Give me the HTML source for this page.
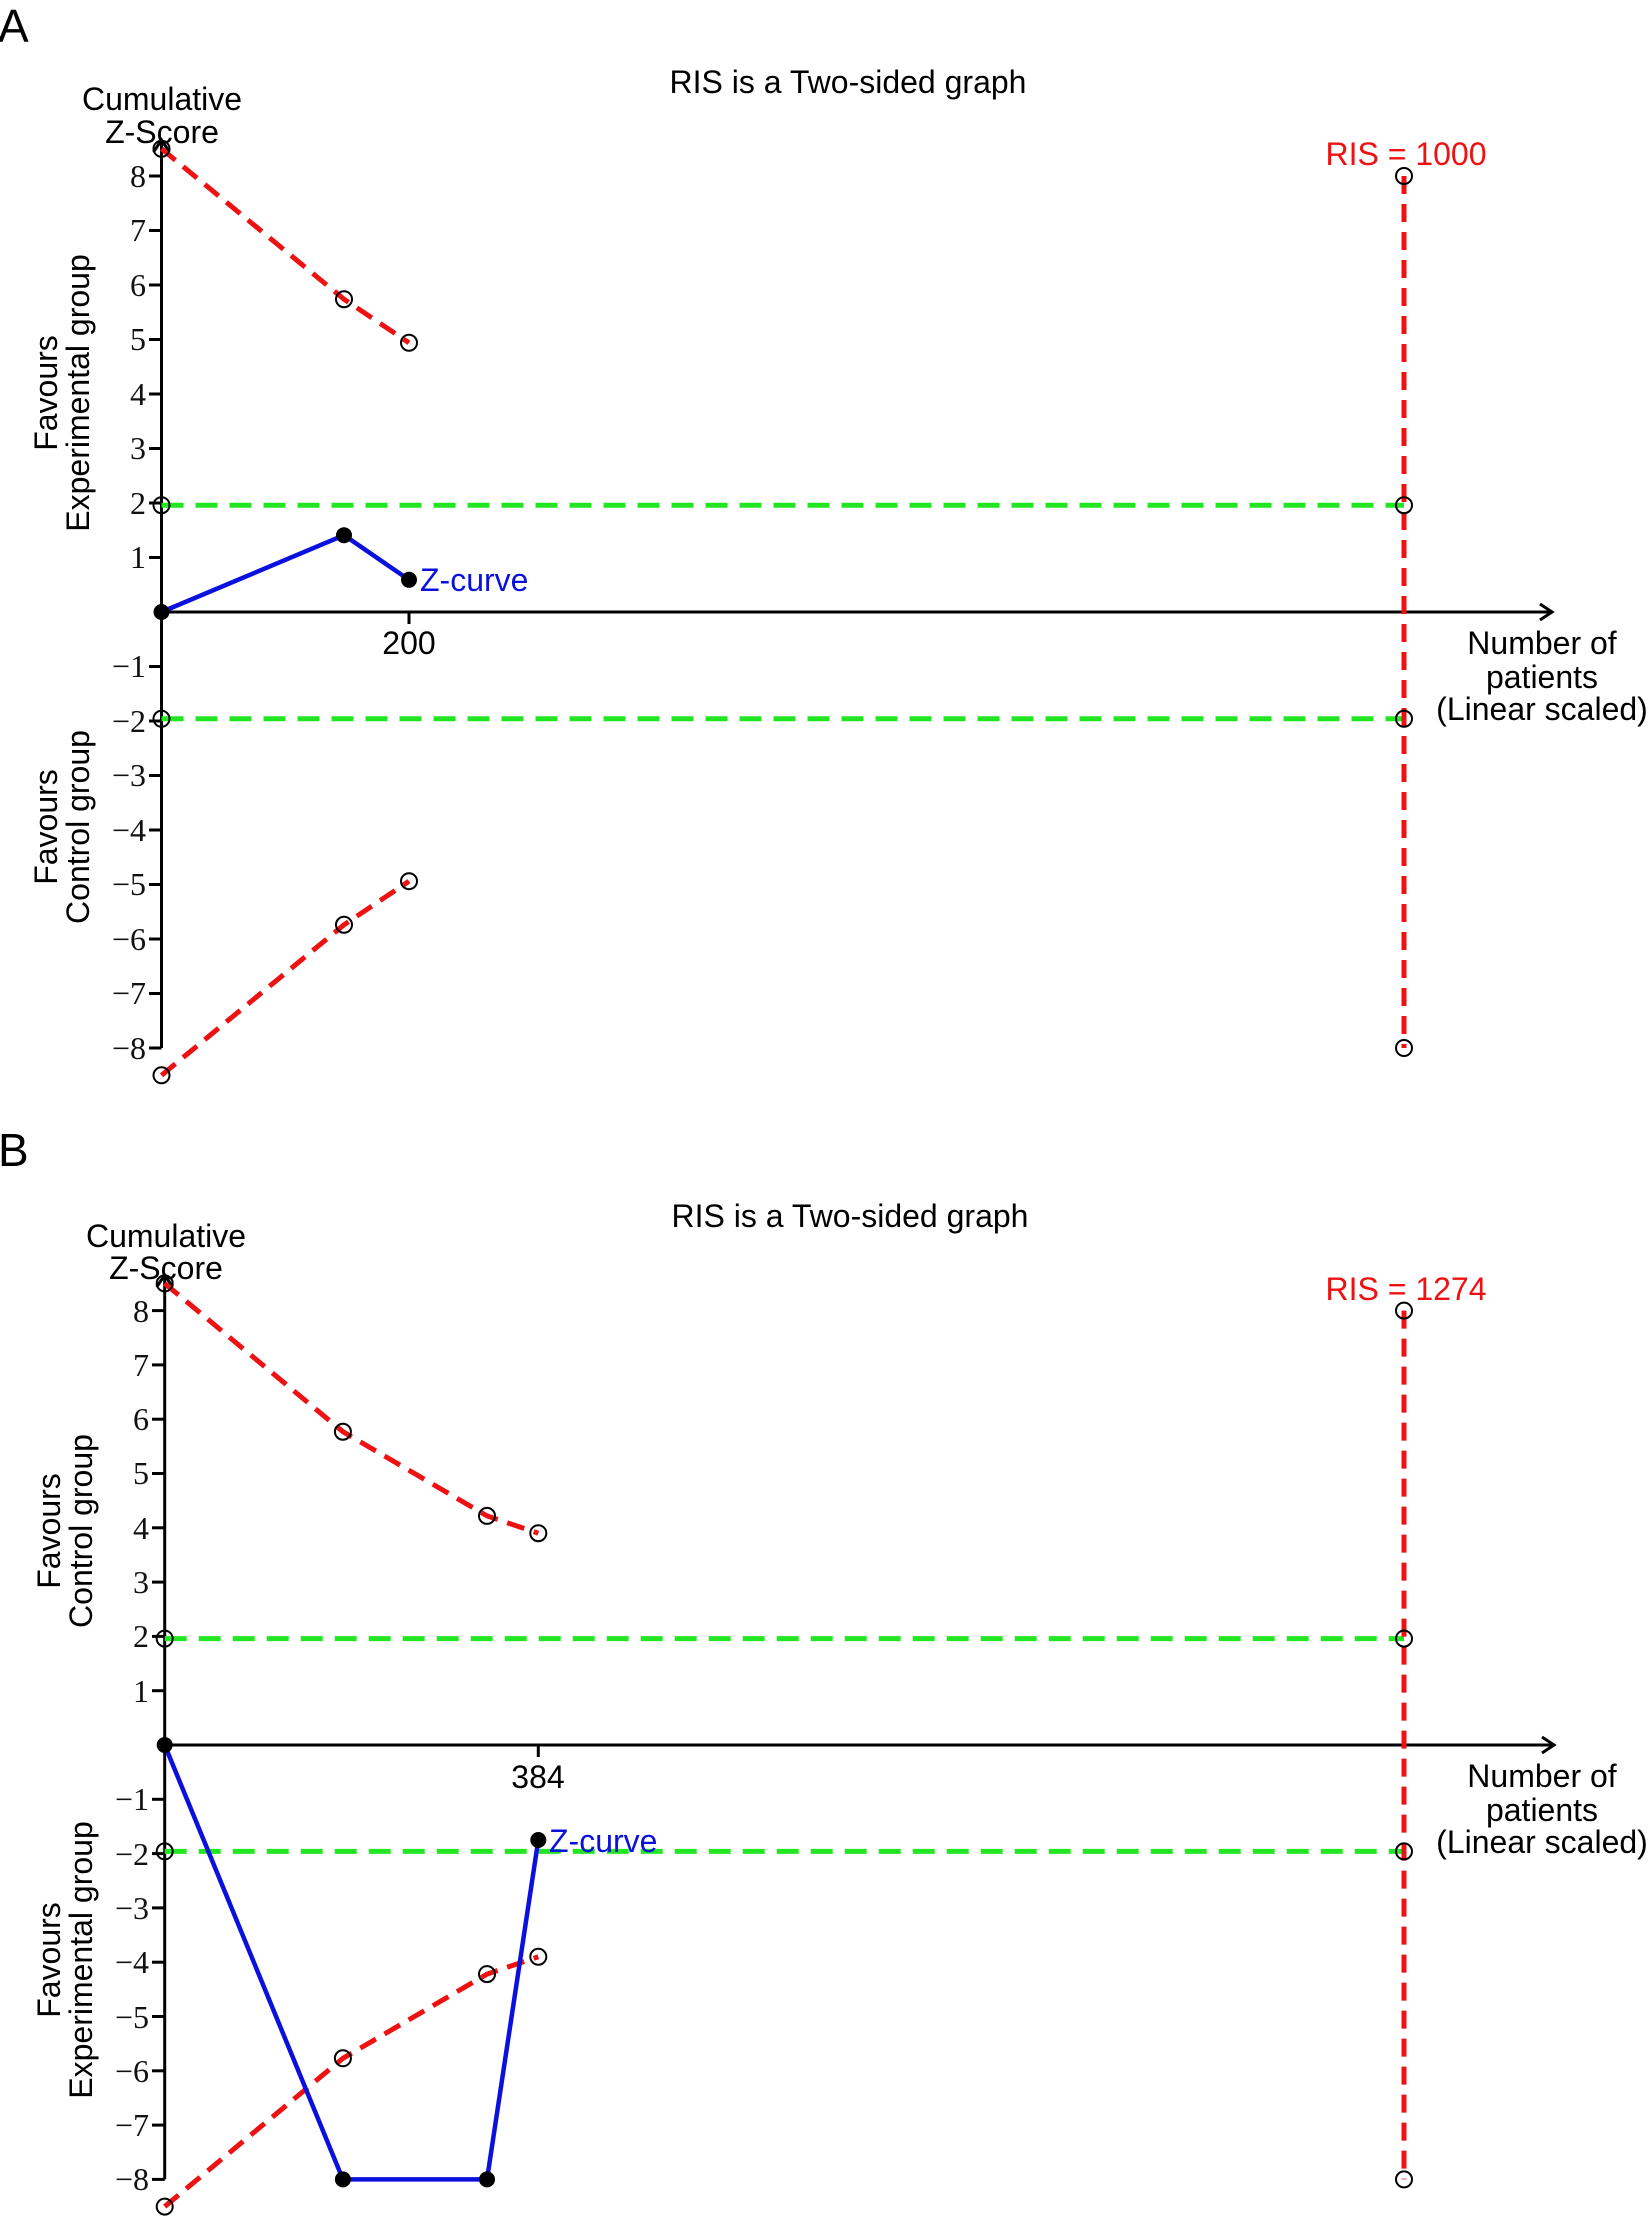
<!DOCTYPE html>
<html><head><meta charset="utf-8"><style>
html,body{margin:0;padding:0;background:#fff;}
svg{display:block;}
.s{font-family:"Liberation Sans",sans-serif;}
.t{font-family:"Liberation Serif",serif;font-size:32px;fill:#111;}
</style></head><body>
<svg width="1650" height="2220" viewBox="0 0 1650 2220" xmlns="http://www.w3.org/2000/svg">
<defs>
<marker id="ar" markerWidth="20" markerHeight="20" refX="14" refY="10" orient="auto" markerUnits="userSpaceOnUse">
<path d="M2,2 L14,10 L2,18" fill="none" stroke="#000" stroke-width="3"/>
</marker>
</defs>

<!-- ================= PANEL A ================= -->
<text x="-2" y="42" class="s" font-size="46">A</text>
<text x="848" y="93" class="s" font-size="32" text-anchor="middle">RIS is a Two-sided graph</text>
<text x="162" y="110" class="s" font-size="32" text-anchor="middle">Cumulative</text>
<text x="162" y="143" class="s" font-size="32" text-anchor="middle">Z-Score</text>
<text transform="translate(57,393) rotate(-90)" class="s" font-size="32" text-anchor="middle">Favours</text>
<text transform="translate(89,393) rotate(-90)" class="s" font-size="32" text-anchor="middle">Experimental group</text>
<text transform="translate(57,827) rotate(-90)" class="s" font-size="32" text-anchor="middle">Favours</text>
<text transform="translate(89,827) rotate(-90)" class="s" font-size="32" text-anchor="middle">Control group</text>

<line x1="161.5" y1="1048" x2="161.5" y2="140" stroke="#000" stroke-width="3" marker-end="url(#ar)"/>
<line x1="161.5" y1="612" x2="1552" y2="612" stroke="#000" stroke-width="3" marker-end="url(#ar)"/>
<g stroke="#000" stroke-width="3">
<line x1="149" y1="557.5" x2="161.5" y2="557.5"/><line x1="149" y1="503" x2="161.5" y2="503"/>
<line x1="149" y1="448.5" x2="161.5" y2="448.5"/><line x1="149" y1="394" x2="161.5" y2="394"/>
<line x1="149" y1="339.5" x2="161.5" y2="339.5"/><line x1="149" y1="285" x2="161.5" y2="285"/>
<line x1="149" y1="230.5" x2="161.5" y2="230.5"/><line x1="149" y1="176" x2="161.5" y2="176"/>
<line x1="149" y1="666.5" x2="161.5" y2="666.5"/><line x1="149" y1="721" x2="161.5" y2="721"/>
<line x1="149" y1="775.5" x2="161.5" y2="775.5"/><line x1="149" y1="830" x2="161.5" y2="830"/>
<line x1="149" y1="884.5" x2="161.5" y2="884.5"/><line x1="149" y1="939" x2="161.5" y2="939"/>
<line x1="149" y1="993.5" x2="161.5" y2="993.5"/><line x1="149" y1="1048" x2="161.5" y2="1048"/>
<line x1="409" y1="612" x2="409" y2="624"/>
</g>
<g class="t" text-anchor="end">
<text x="146" y="568">1</text><text x="146" y="514">2</text><text x="146" y="459">3</text><text x="146" y="405">4</text>
<text x="146" y="350">5</text><text x="146" y="296">6</text><text x="146" y="241">7</text><text x="146" y="187">8</text>
<text x="146" y="677">−1</text><text x="146" y="732">−2</text><text x="146" y="786">−3</text><text x="146" y="841">−4</text>
<text x="146" y="895">−5</text><text x="146" y="950">−6</text><text x="146" y="1004">−7</text><text x="146" y="1059">−8</text>
</g>
<text x="409" y="654" class="s" font-size="32" text-anchor="middle">200</text>
<text x="1542" y="654" class="s" font-size="32" text-anchor="middle">Number of</text>
<text x="1542" y="688" class="s" font-size="32" text-anchor="middle">patients</text>
<text x="1542" y="720" class="s" font-size="32" text-anchor="middle">(Linear scaled)</text>

<g stroke="#22e622" stroke-width="5" stroke-dasharray="22,12" fill="none">
<line x1="161.5" y1="505.2" x2="1404" y2="505.2"/>
<line x1="161.5" y1="718.8" x2="1404" y2="718.8"/>
</g>
<g stroke="#ee1111" stroke-width="5" stroke-dasharray="18,10" fill="none">
<polyline points="161.5,148.75 344,299.2 409,342.8"/>
<polyline points="161.5,1075.3 344,924.8 409,881.2"/>
<line x1="1404" y1="176" x2="1404" y2="1048"/>
</g>
<text x="1406" y="165" class="s" font-size="32" fill="#ee1111" text-anchor="middle">RIS = 1000</text>
<polyline points="161.5,612 344,535.2 409,579.8" stroke="#0a10dd" stroke-width="4.5" fill="none"/>
<g fill="#000"><circle cx="161.5" cy="612" r="8"/><circle cx="344" cy="535.2" r="8"/><circle cx="409" cy="579.8" r="8"/></g>
<text x="420" y="591" class="s" font-size="32" fill="#0a10dd">Z-curve</text>
<g fill="none" stroke="#000" stroke-width="2">
<circle cx="161.5" cy="148.75" r="8"/><circle cx="344" cy="299.2" r="8"/><circle cx="409" cy="342.8" r="8"/>
<circle cx="161.5" cy="1075.3" r="8"/><circle cx="344" cy="924.8" r="8"/><circle cx="409" cy="881.2" r="8"/>
<circle cx="161.5" cy="505.2" r="8"/><circle cx="161.5" cy="718.8" r="8"/>
<circle cx="1404" cy="176" r="8"/><circle cx="1404" cy="505.2" r="8"/><circle cx="1404" cy="718.8" r="8"/><circle cx="1404" cy="1048" r="8"/>
</g>

<!-- ================= PANEL B ================= -->
<text x="-2" y="1166" class="s" font-size="46">B</text>
<text x="850" y="1227" class="s" font-size="32" text-anchor="middle">RIS is a Two-sided graph</text>
<text x="166" y="1247" class="s" font-size="32" text-anchor="middle">Cumulative</text>
<text x="166" y="1279" class="s" font-size="32" text-anchor="middle">Z-Score</text>
<text transform="translate(60,1531) rotate(-90)" class="s" font-size="32" text-anchor="middle">Favours</text>
<text transform="translate(92,1531) rotate(-90)" class="s" font-size="32" text-anchor="middle">Control group</text>
<text transform="translate(60,1960) rotate(-90)" class="s" font-size="32" text-anchor="middle">Favours</text>
<text transform="translate(92,1960) rotate(-90)" class="s" font-size="32" text-anchor="middle">Experimental group</text>

<line x1="164.7" y1="2179.4" x2="164.7" y2="1275" stroke="#000" stroke-width="3" marker-end="url(#ar)"/>
<line x1="164.7" y1="1745" x2="1554" y2="1745" stroke="#000" stroke-width="3" marker-end="url(#ar)"/>
<g stroke="#000" stroke-width="3">
<line x1="152" y1="1690.7" x2="164.7" y2="1690.7"/><line x1="152" y1="1636.4" x2="164.7" y2="1636.4"/>
<line x1="152" y1="1582.1" x2="164.7" y2="1582.1"/><line x1="152" y1="1527.8" x2="164.7" y2="1527.8"/>
<line x1="152" y1="1473.5" x2="164.7" y2="1473.5"/><line x1="152" y1="1419.2" x2="164.7" y2="1419.2"/>
<line x1="152" y1="1364.9" x2="164.7" y2="1364.9"/><line x1="152" y1="1310.6" x2="164.7" y2="1310.6"/>
<line x1="152" y1="1799.3" x2="164.7" y2="1799.3"/><line x1="152" y1="1853.6" x2="164.7" y2="1853.6"/>
<line x1="152" y1="1907.9" x2="164.7" y2="1907.9"/><line x1="152" y1="1962.2" x2="164.7" y2="1962.2"/>
<line x1="152" y1="2016.5" x2="164.7" y2="2016.5"/><line x1="152" y1="2070.8" x2="164.7" y2="2070.8"/>
<line x1="152" y1="2125.1" x2="164.7" y2="2125.1"/><line x1="152" y1="2179.4" x2="164.7" y2="2179.4"/>
<line x1="538.3" y1="1745" x2="538.3" y2="1757"/>
</g>
<g class="t" text-anchor="end">
<text x="149" y="1702">1</text><text x="149" y="1647">2</text><text x="149" y="1593">3</text><text x="149" y="1539">4</text>
<text x="149" y="1484">5</text><text x="149" y="1430">6</text><text x="149" y="1376">7</text><text x="149" y="1322">8</text>
<text x="149" y="1810">−1</text><text x="149" y="1865">−2</text><text x="149" y="1919">−3</text><text x="149" y="1973">−4</text>
<text x="149" y="2028">−5</text><text x="149" y="2082">−6</text><text x="149" y="2136">−7</text><text x="149" y="2190">−8</text>
</g>
<text x="538" y="1788" class="s" font-size="32" text-anchor="middle">384</text>
<text x="1542" y="1787" class="s" font-size="32" text-anchor="middle">Number of</text>
<text x="1542" y="1821" class="s" font-size="32" text-anchor="middle">patients</text>
<text x="1542" y="1853" class="s" font-size="32" text-anchor="middle">(Linear scaled)</text>

<g stroke="#22e622" stroke-width="5" stroke-dasharray="22,12" fill="none">
<line x1="164.7" y1="1638.6" x2="1404" y2="1638.6"/>
<line x1="164.7" y1="1851.4" x2="1404" y2="1851.4"/>
</g>
<g stroke="#ee1111" stroke-width="5" stroke-dasharray="18,10" fill="none">
<polyline points="164.7,1283.4 342.9,1431.7 487,1515.9 538.3,1533.2"/>
<polyline points="164.7,2206.6 342.9,2058.3 487,1974.1 538.3,1956.8"/>
<line x1="1404" y1="1310.6" x2="1404" y2="2179.4"/>
</g>
<text x="1406" y="1300" class="s" font-size="32" fill="#ee1111" text-anchor="middle">RIS = 1274</text>
<polyline points="164.7,1745 342.9,2179.4 487,2179.4 538.3,1840" stroke="#0a10dd" stroke-width="4.5" fill="none"/>
<g fill="#000"><circle cx="164.7" cy="1745" r="8"/><circle cx="342.9" cy="2179.4" r="8"/><circle cx="487" cy="2179.4" r="8"/><circle cx="538.3" cy="1840" r="8"/></g>
<text x="549" y="1852" class="s" font-size="32" fill="#0a10dd">Z-curve</text>
<g fill="none" stroke="#000" stroke-width="2">
<circle cx="164.7" cy="1283.4" r="8"/><circle cx="342.9" cy="1431.7" r="8"/><circle cx="487" cy="1515.9" r="8"/><circle cx="538.3" cy="1533.2" r="8"/>
<circle cx="164.7" cy="2206.6" r="8"/><circle cx="342.9" cy="2058.3" r="8"/><circle cx="487" cy="1974.1" r="8"/><circle cx="538.3" cy="1956.8" r="8"/>
<circle cx="164.7" cy="1638.6" r="8"/><circle cx="164.7" cy="1851.4" r="8"/>
<circle cx="1404" cy="1310.6" r="8"/><circle cx="1404" cy="1638.6" r="8"/><circle cx="1404" cy="1851.4" r="8"/><circle cx="1404" cy="2179.4" r="8"/>
</g>
</svg>
</body></html>
